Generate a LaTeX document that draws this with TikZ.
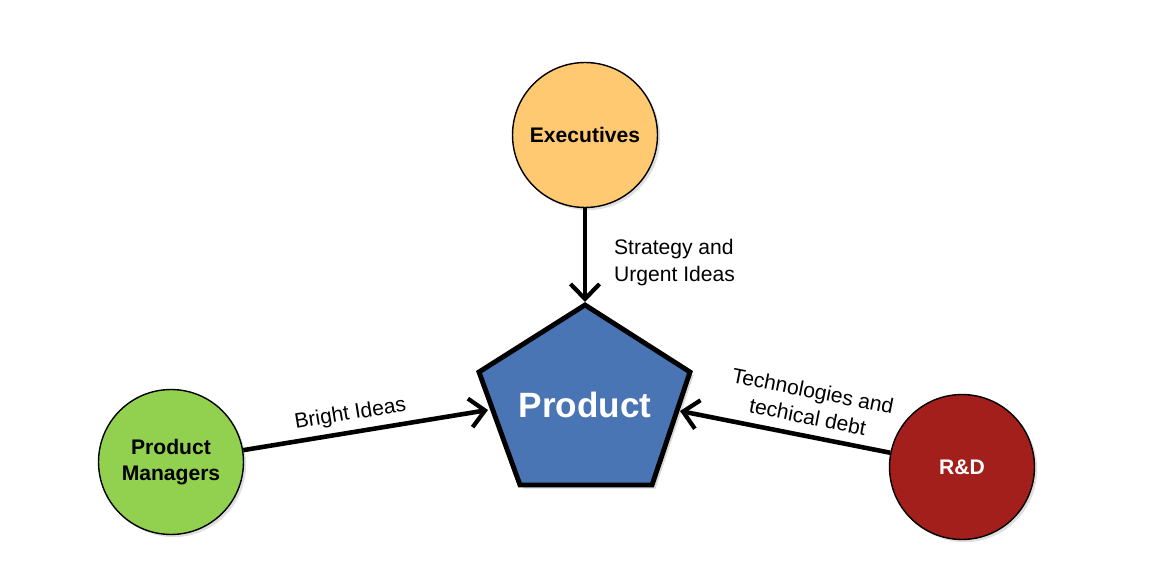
\documentclass[tikz,border=0pt]{standalone}
\usepackage{fontspec}
\setmainfont{Liberation Sans}
\usetikzlibrary{arrows.meta,shadows}

\definecolor{execorange}{HTML}{FFC971}
\definecolor{pmgreen}{HTML}{92D050}
\definecolor{rdred}{HTML}{A31F1B}
\definecolor{prodblue}{HTML}{4A75B5}

\begin{document}
\begin{tikzpicture}[
  x=0.02cm, y=-0.02cm,
  actor/.style={circle, draw, line width=0.8pt, minimum size=2.9cm, inner sep=0pt,
    align=center, font=\fontsize{12}{14.6}\bfseries\selectfont,
    drop shadow={shadow xshift=1.5pt, shadow yshift=-1.5pt, opacity=0.25}},
  arrow/.style={-{Straight Barb[length=3mm, width=5.8mm, line width=2.4pt]}, line width=2.6pt},
  label/.style={font=\fontsize{12}{15}\selectfont, align=center},
]
\useasboundingbox (0,0) rectangle (1176,577);

% === PRODUCT PENTAGON ===
\coordinate (pT) at (585,305);
\coordinate (pUR) at (690,372);
\coordinate (pLR) at (652,485);
\coordinate (pLL) at (520,485);
\coordinate (pUL) at (479,372);
\draw[line width=2.8pt, line join=miter, fill=prodblue,
  drop shadow={shadow xshift=2pt, shadow yshift=-2pt, opacity=0.3}]
  (pT) -- (pUR) -- (pLR) -- (pLL) -- (pUL) -- cycle;
\node[font=\fontsize{20}{24}\bfseries\selectfont, text=white] (prod) at (585,405) {Product};
\coordinate (prodT) at (585,302);
\coordinate (prodL) at (488,410);
\coordinate (prodR) at (680,411);

% === ACTORS ===
\node[actor, fill=execorange] (exec) at (585,135) {Executives};
\node[actor, fill=pmgreen] (pm) at (171,462) {Product\\Managers};
\node[actor, fill=rdred, text=white] (rd) at (962,467) {R\&D};

% === FLOWS ===
\draw[arrow] (exec) -- (prodT)
  node[label, pos=0.58, anchor=west, xshift=0.42cm, align=left] {Strategy and\\Urgent Ideas};
\draw[arrow] (pm) -- (prodL)
  node[label, pos=0.45, above, sloped] {Bright Ideas};
\draw[arrow] (rd) -- (prodR)
  node[label, pos=0.41, above, sloped, yshift=2pt] {Technologies and\\techical debt};
\end{tikzpicture}
\end{document}
